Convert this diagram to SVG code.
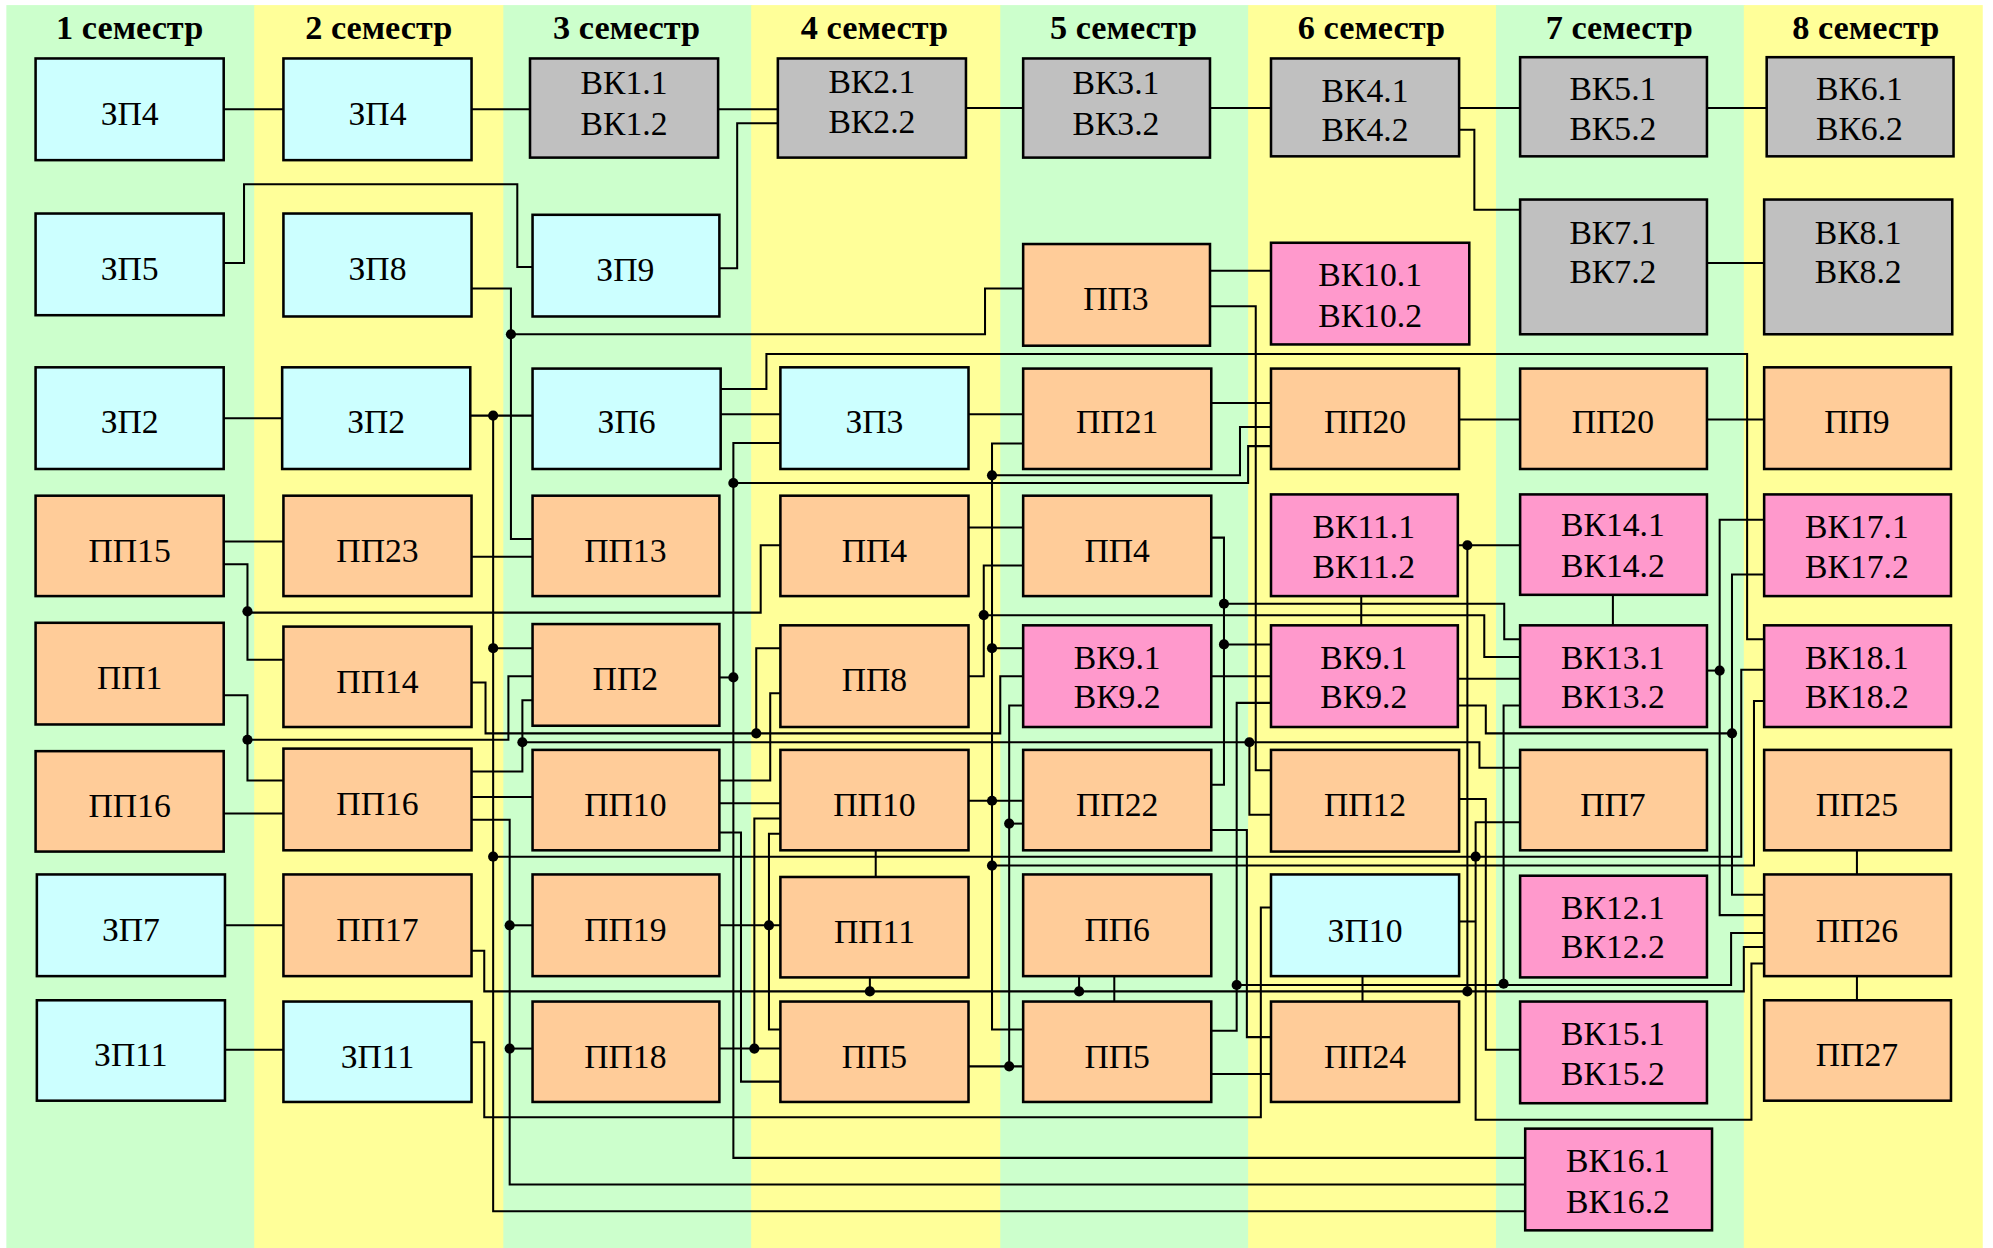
<svg xmlns="http://www.w3.org/2000/svg" width="1993" height="1248" viewBox="0 0 1993 1248">
<style>
.bg{stroke:none}
.g{fill:#CCFFCC}.y{fill:#FFFF99}
.h{font-family:"Liberation Serif","Times New Roman",serif;font-weight:bold;font-size:27px;text-anchor:middle;fill:#000}
.b rect{stroke:#000;stroke-width:2}
.cy rect{fill:#CCFFFF}.gr rect{fill:#C0C0C0}.or rect{fill:#FFCC99}.pk rect{fill:#FF99CC}
.b text{font-family:"Liberation Serif","Times New Roman",serif;font-size:26.5px;text-anchor:middle;fill:#000}
#conn polyline{fill:none;stroke:#000;stroke-width:1.6}
#conn circle{fill:#000}
</style>
<rect width="1993" height="1248" fill="#FFFFFF"/>
<g transform="scale(1.271)">
<g id="columns">
<rect class="bg g" x="5" y="4" width="196" height="978"/>
<rect class="bg y" x="200" y="4" width="197" height="978"/>
<rect class="bg g" x="396" y="4" width="196" height="978"/>
<rect class="bg y" x="591" y="4" width="197" height="978"/>
<rect class="bg g" x="787" y="4" width="196" height="978"/>
<rect class="bg y" x="982" y="4" width="196" height="978"/>
<rect class="bg g" x="1177" y="4" width="196" height="978"/>
<rect class="bg y" x="1372" y="4" width="188" height="978"/>
<text class="h" x="102" y="31">1 семестр</text>
<text class="h" x="298" y="31">2 семестр</text>
<text class="h" x="493" y="31">3 семестр</text>
<text class="h" x="688" y="31">4 семестр</text>
<text class="h" x="884" y="31">5 семестр</text>
<text class="h" x="1079" y="31">6 семестр</text>
<text class="h" x="1274" y="31">7 семестр</text>
<text class="h" x="1468" y="31">8 семестр</text>
</g>
<g id="conn">
<polyline points="176,86 223,86"/>
<polyline points="371,86 417,86"/>
<polyline points="565,86 612,86"/>
<polyline points="566,211 580,211 580,97 612,97"/>
<polyline points="760,85 805,85"/>
<polyline points="952,85 1000,85"/>
<polyline points="1148,85 1196,85"/>
<polyline points="1343,85 1390,85"/>
<polyline points="1148,102 1160,102 1160,165 1196,165"/>
<polyline points="1343,207 1388,207"/>
<polyline points="176,207 192,207 192,145 407,145 407,210 419,210"/>
<polyline points="371,227 402,227 402,424 419,424"/>
<polyline points="402,263 775,263 775,227 805,227"/>
<polyline points="952,213 1000,213"/>
<polyline points="952,241 988,241 988,606 1000,606"/>
<polyline points="176,329 222,329"/>
<polyline points="370,327 419,327"/>
<polyline points="388,327 388,953 1200,953"/>
<polyline points="388,510 419,510"/>
<polyline points="388,674 1370,674 1370,527 1388,527"/>
<polyline points="567,306 603,306 603,278.5 1374.6,278.5 1374.6,503 1388,503"/>
<polyline points="567,326 614,326"/>
<polyline points="614,348.5 577,348.5 577,911 1200,911"/>
<polyline points="577,380 982,380 982,351 1000,351"/>
<polyline points="762,326 805,326"/>
<polyline points="805,349 780.5,349 780.5,810 805,810"/>
<polyline points="780.5,374 975.6,374 975.6,336 1000,336"/>
<polyline points="953,317 1000,317"/>
<polyline points="1148,330 1196,330"/>
<polyline points="1343,330 1388,330"/>
<polyline points="176,426 223,426"/>
<polyline points="176,444 194.7,444 194.7,519 223,519"/>
<polyline points="194.7,482 598.5,482 598.5,429 614,429"/>
<polyline points="371,438 419,438"/>
<polyline points="762,415 805,415"/>
<polyline points="805,445 774,445 774,532 762,532"/>
<polyline points="774,484 1167.8,484 1167.8,517 1196,517"/>
<polyline points="953,423 963,423 963,617.5 953,617.5"/>
<polyline points="963,475 1183.5,475 1183.5,503 1196,503"/>
<polyline points="963,507 1000,507"/>
<polyline points="1147,429 1196,429"/>
<polyline points="1154.5,429 1154.5,780"/>
<polyline points="1071,469 1071,492"/>
<polyline points="1269,468 1269,492"/>
<polyline points="1388,409 1353,409 1353,720 1388,720"/>
<polyline points="1343,527.6 1353,527.6"/>
<polyline points="1388,452 1362.7,452 1362.7,704 1388,704"/>
<polyline points="1147,534 1196,534"/>
<polyline points="1147,555 1169,555 1169,577 1362.7,577"/>
<polyline points="1196,555 1183,555 1183,774"/>
<polyline points="176,547 194.7,547 194.7,614 223,614"/>
<polyline points="194.7,582 400,582 400,532 419,532"/>
<polyline points="371,607 411,607 411,551 419,551"/>
<polyline points="411,584 1164,584 1164,604 1196,604"/>
<polyline points="176,640 223,640"/>
<polyline points="371,627 419,627"/>
<polyline points="371,645 401,645 401,932 1200,932"/>
<polyline points="401,728 419,728"/>
<polyline points="401,825 419,825"/>
<polyline points="371,537 382,537 382,577 787,577 787,532 805,532"/>
<polyline points="614,510 595,510 595,577"/>
<polyline points="566,533 577,533"/>
<polyline points="805,555 794,555 794,839"/>
<polyline points="794,648 805,648"/>
<polyline points="762,839 805,839"/>
<polyline points="780.5,510 805,510"/>
<polyline points="566,614 606,614 606,545.5 614,545.5"/>
<polyline points="566,632 614,632"/>
<polyline points="566,655 583,655 583,851 614,851"/>
<polyline points="614,644 593.5,644 593.5,825"/>
<polyline points="566,825 614,825"/>
<polyline points="614,656 605,656 605,810 614,810"/>
<polyline points="566,728 614,728"/>
<polyline points="762,630 805,630"/>
<polyline points="689,669 689,690"/>
<polyline points="684.4,769 684.4,780"/>
<polyline points="371,748 381,748 381,780 1372,780 1372,745 1388,745"/>
<polyline points="849,768 849,780"/>
<polyline points="876.7,768 876.7,788"/>
<polyline points="177,728 223,728"/>
<polyline points="177,826 223,826"/>
<polyline points="371,820 381,820 381,879 992,879 992,714 1000,714"/>
<polyline points="953,653 981,653 981,816 1000,816"/>
<polyline points="953,811 973,811 973,553 1000,553"/>
<polyline points="973,775 1362,775 1362,734 1388,734"/>
<polyline points="953,845 1000,845"/>
<polyline points="953,532 1000,532"/>
<polyline points="780.5,681 1380,681 1380,551.5 1388,551.5"/>
<polyline points="983,584 983,641 1000,641"/>
<polyline points="1148,628.6 1169,628.6 1169,826 1196,826"/>
<polyline points="1196,647 1161,647 1161,881 1378,881 1378,758 1388,758"/>
<polyline points="1148,725 1161,725"/>
<polyline points="1072,768 1072,788"/>
<polyline points="1461,669 1461,688"/>
<polyline points="1461,768 1461,787"/>
<circle cx="402" cy="263" r="4"/>
<circle cx="388" cy="327" r="4"/>
<circle cx="577" cy="380" r="4"/>
<circle cx="780.5" cy="374" r="4"/>
<circle cx="194.7" cy="481" r="4"/>
<circle cx="194.7" cy="582" r="4"/>
<circle cx="388" cy="510" r="4"/>
<circle cx="411" cy="584" r="4"/>
<circle cx="577" cy="533" r="4"/>
<circle cx="388" cy="674" r="4"/>
<circle cx="401" cy="728" r="4"/>
<circle cx="401" cy="825" r="4"/>
<circle cx="595" cy="577" r="4"/>
<circle cx="774" cy="484" r="4"/>
<circle cx="780.5" cy="510" r="4"/>
<circle cx="963" cy="475" r="4"/>
<circle cx="963" cy="507" r="4"/>
<circle cx="983" cy="584" r="4"/>
<circle cx="780.5" cy="630" r="4"/>
<circle cx="794" cy="648" r="4"/>
<circle cx="780.5" cy="681" r="4"/>
<circle cx="605" cy="728" r="4"/>
<circle cx="593.5" cy="825" r="4"/>
<circle cx="794" cy="839" r="4"/>
<circle cx="684.4" cy="780" r="4"/>
<circle cx="849" cy="780" r="4"/>
<circle cx="973" cy="775" r="4"/>
<circle cx="1154.5" cy="429" r="4"/>
<circle cx="1154.5" cy="780" r="4"/>
<circle cx="1183" cy="774" r="4"/>
<circle cx="1161" cy="674" r="4"/>
<circle cx="1353" cy="527.6" r="4"/>
<circle cx="1362.7" cy="577" r="4"/>
</g>
<g id="n_zp4_1" class="b cy"><rect x="28" y="46" width="148" height="80"/><text x="102" y="98">ЗП4</text></g>
<g id="n_zp4_2" class="b cy"><rect x="223" y="46" width="148" height="80"/><text x="297" y="98">ЗП4</text></g>
<g id="n_vk1" class="b gr"><rect x="417" y="46" width="148" height="78"/><text x="491" y="74">ВК1.1</text><text x="491" y="106">ВК1.2</text></g>
<g id="n_vk2" class="b gr"><rect x="612" y="46" width="148" height="78"/><text x="686" y="73">ВК2.1</text><text x="686" y="105">ВК2.2</text></g>
<g id="n_vk3" class="b gr"><rect x="805" y="46" width="147" height="78"/><text x="878" y="74">ВК3.1</text><text x="878" y="106">ВК3.2</text></g>
<g id="n_vk4" class="b gr"><rect x="1000" y="46" width="148" height="77"/><text x="1074" y="80">ВК4.1</text><text x="1074" y="111">ВК4.2</text></g>
<g id="n_vk5" class="b gr"><rect x="1196" y="45" width="147" height="78"/><text x="1269" y="79">ВК5.1</text><text x="1269" y="110">ВК5.2</text></g>
<g id="n_vk6" class="b gr"><rect x="1390" y="45" width="147" height="78"/><text x="1463" y="79">ВК6.1</text><text x="1463" y="110">ВК6.2</text></g>
<g id="n_zp5" class="b cy"><rect x="28" y="168" width="148" height="80"/><text x="102" y="220">ЗП5</text></g>
<g id="n_zp8" class="b cy"><rect x="223" y="168" width="148" height="81"/><text x="297" y="220">ЗП8</text></g>
<g id="n_zp9" class="b cy"><rect x="419" y="169" width="147" height="80"/><text x="492" y="221">ЗП9</text></g>
<g id="n_pp3" class="b or"><rect x="805" y="192" width="147" height="80"/><text x="878" y="244">ПП3</text></g>
<g id="n_vk10" class="b pk"><rect x="1000" y="191" width="156" height="80"/><text x="1078" y="225">ВК10.1</text><text x="1078" y="257">ВК10.2</text></g>
<g id="n_vk7" class="b gr"><rect x="1196" y="157" width="147" height="106"/><text x="1269" y="192">ВК7.1</text><text x="1269" y="223">ВК7.2</text></g>
<g id="n_vk8" class="b gr"><rect x="1388" y="157" width="148" height="106"/><text x="1462" y="192">ВК8.1</text><text x="1462" y="223">ВК8.2</text></g>
<g id="n_zp2_1" class="b cy"><rect x="28" y="289" width="148" height="80"/><text x="102" y="341">ЗП2</text></g>
<g id="n_zp2_2" class="b cy"><rect x="222" y="289" width="148" height="80"/><text x="296" y="341">ЗП2</text></g>
<g id="n_zp6" class="b cy"><rect x="419" y="290" width="148" height="79"/><text x="493" y="341">ЗП6</text></g>
<g id="n_zp3" class="b cy"><rect x="614" y="289" width="148" height="80"/><text x="688" y="341">ЗП3</text></g>
<g id="n_pp21" class="b or"><rect x="805" y="290" width="148" height="79"/><text x="879" y="341">ПП21</text></g>
<g id="n_pp20_1" class="b or"><rect x="1000" y="290" width="148" height="79"/><text x="1074" y="341">ПП20</text></g>
<g id="n_pp20_2" class="b or"><rect x="1196" y="290" width="147" height="79"/><text x="1269" y="341">ПП20</text></g>
<g id="n_pp9" class="b or"><rect x="1388" y="289" width="147" height="80"/><text x="1461" y="341">ПП9</text></g>
<g id="n_pp15" class="b or"><rect x="28" y="390" width="148" height="79"/><text x="102" y="442">ПП15</text></g>
<g id="n_pp23" class="b or"><rect x="223" y="390" width="148" height="79"/><text x="297" y="442">ПП23</text></g>
<g id="n_pp13" class="b or"><rect x="419" y="390" width="147" height="79"/><text x="492" y="442">ПП13</text></g>
<g id="n_pp4_1" class="b or"><rect x="614" y="390" width="148" height="79"/><text x="688" y="442">ПП4</text></g>
<g id="n_pp4_2" class="b or"><rect x="805" y="390" width="148" height="79"/><text x="879" y="442">ПП4</text></g>
<g id="n_vk11" class="b pk"><rect x="1000" y="389" width="147" height="80"/><text x="1073" y="423">ВК11.1</text><text x="1073" y="455">ВК11.2</text></g>
<g id="n_vk14" class="b pk"><rect x="1196" y="389" width="147" height="79"/><text x="1269" y="422">ВК14.1</text><text x="1269" y="454">ВК14.2</text></g>
<g id="n_vk17" class="b pk"><rect x="1388" y="389" width="147" height="80"/><text x="1461" y="423">ВК17.1</text><text x="1461" y="455">ВК17.2</text></g>
<g id="n_pp1" class="b or"><rect x="28" y="490" width="148" height="80"/><text x="102" y="542">ПП1</text></g>
<g id="n_pp14" class="b or"><rect x="223" y="493" width="148" height="79"/><text x="297" y="545">ПП14</text></g>
<g id="n_pp2" class="b or"><rect x="419" y="491" width="147" height="80"/><text x="492" y="543">ПП2</text></g>
<g id="n_pp8" class="b or"><rect x="614" y="492" width="148" height="80"/><text x="688" y="544">ПП8</text></g>
<g id="n_vk9_1" class="b pk"><rect x="805" y="492" width="148" height="80"/><text x="879" y="526">ВК9.1</text><text x="879" y="557">ВК9.2</text></g>
<g id="n_vk9_2" class="b pk"><rect x="1000" y="492" width="147" height="80"/><text x="1073" y="526">ВК9.1</text><text x="1073" y="557">ВК9.2</text></g>
<g id="n_vk13" class="b pk"><rect x="1196" y="492" width="147" height="80"/><text x="1269" y="526">ВК13.1</text><text x="1269" y="557">ВК13.2</text></g>
<g id="n_vk18" class="b pk"><rect x="1388" y="492" width="147" height="80"/><text x="1461" y="526">ВК18.1</text><text x="1461" y="557">ВК18.2</text></g>
<g id="n_pp16_1" class="b or"><rect x="28" y="591" width="148" height="79"/><text x="102" y="643">ПП16</text></g>
<g id="n_pp16_2" class="b or"><rect x="223" y="589" width="148" height="80"/><text x="297" y="641">ПП16</text></g>
<g id="n_pp10_1" class="b or"><rect x="419" y="590" width="147" height="79"/><text x="492" y="642">ПП10</text></g>
<g id="n_pp10_2" class="b or"><rect x="614" y="590" width="148" height="79"/><text x="688" y="642">ПП10</text></g>
<g id="n_pp22" class="b or"><rect x="805" y="590" width="148" height="79"/><text x="879" y="642">ПП22</text></g>
<g id="n_pp12" class="b or"><rect x="1000" y="590" width="148" height="80"/><text x="1074" y="642">ПП12</text></g>
<g id="n_pp7" class="b or"><rect x="1196" y="590" width="147" height="79"/><text x="1269" y="642">ПП7</text></g>
<g id="n_pp25" class="b or"><rect x="1388" y="590" width="147" height="79"/><text x="1461" y="642">ПП25</text></g>
<g id="n_zp7" class="b cy"><rect x="29" y="688" width="148" height="80"/><text x="103" y="740">ЗП7</text></g>
<g id="n_pp17" class="b or"><rect x="223" y="688" width="148" height="80"/><text x="297" y="740">ПП17</text></g>
<g id="n_pp19" class="b or"><rect x="419" y="688" width="147" height="80"/><text x="492" y="740">ПП19</text></g>
<g id="n_pp11" class="b or"><rect x="614" y="690" width="148" height="79"/><text x="688" y="742">ПП11</text></g>
<g id="n_pp6" class="b or"><rect x="805" y="688" width="148" height="80"/><text x="879" y="740">ПП6</text></g>
<g id="n_zp10" class="b cy"><rect x="1000" y="688" width="148" height="80"/><text x="1074" y="741">ЗП10</text></g>
<g id="n_vk12" class="b pk"><rect x="1196" y="689" width="147" height="80"/><text x="1269" y="723">ВК12.1</text><text x="1269" y="754">ВК12.2</text></g>
<g id="n_pp26" class="b or"><rect x="1388" y="688" width="147" height="80"/><text x="1461" y="741">ПП26</text></g>
<g id="n_zp11_1" class="b cy"><rect x="29" y="787" width="148" height="79"/><text x="103" y="839">ЗП11</text></g>
<g id="n_zp11_2" class="b cy"><rect x="223" y="788" width="148" height="79"/><text x="297" y="840">ЗП11</text></g>
<g id="n_pp18" class="b or"><rect x="419" y="788" width="147" height="79"/><text x="492" y="840">ПП18</text></g>
<g id="n_pp5_1" class="b or"><rect x="614" y="788" width="148" height="79"/><text x="688" y="840">ПП5</text></g>
<g id="n_pp5_2" class="b or"><rect x="805" y="788" width="148" height="79"/><text x="879" y="840">ПП5</text></g>
<g id="n_pp24" class="b or"><rect x="1000" y="788" width="148" height="79"/><text x="1074" y="840">ПП24</text></g>
<g id="n_vk15" class="b pk"><rect x="1196" y="788" width="147" height="80"/><text x="1269" y="822">ВК15.1</text><text x="1269" y="854">ВК15.2</text></g>
<g id="n_pp27" class="b or"><rect x="1388" y="787" width="147" height="79"/><text x="1461" y="839">ПП27</text></g>
<g id="n_vk16" class="b pk"><rect x="1200" y="888" width="147" height="80"/><text x="1273" y="922">ВК16.1</text><text x="1273" y="954">ВК16.2</text></g>
</g>
</svg>
